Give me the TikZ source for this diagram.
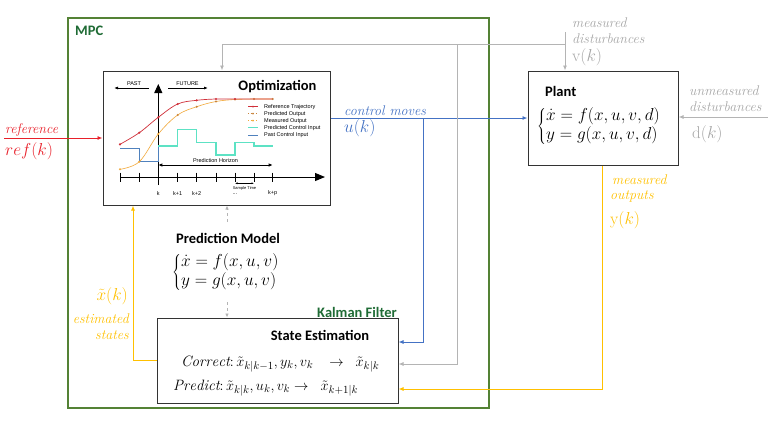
\documentclass[tikz,border=0pt]{standalone}
\usepackage{fontspec}
\newfontfamily\calib{Carlito}
\newfontfamily\arl{Liberation Sans}
\usetikzlibrary{arrows.meta}
\definecolor{mpcgreen}{HTML}{548235}
\definecolor{dkgreen}{HTML}{1F6B35}
\definecolor{refred}{HTML}{E8202A}
\definecolor{ublue}{HTML}{4472C4}
\definecolor{lgray}{HTML}{B4B4B4}
\definecolor{tgray}{HTML}{A6A6A6}
\definecolor{yel}{HTML}{FFC000}
\definecolor{cyanc}{HTML}{5DE2C4}
\definecolor{pastblue}{HTML}{4F81BD}
\definecolor{predor}{HTML}{C8843C}
\definecolor{measor}{HTML}{F2A93B}
\definecolor{chred}{HTML}{D0303A}
\tikzset{
  arr/.style={-{Latex[length=5pt,width=4pt]}, line width=0.9pt},
  box/.style={draw=black!80, line width=1pt, inner sep=0pt, fill=white},
  bsans/.style={font=\calib\bfseries\fontsize{14.5}{17}\selectfont, inner sep=0pt},
  itl/.style={font=\itshape\fontsize{14}{16}\selectfont, inner sep=0pt},
  mth/.style={font=\fontsize{17}{20}\selectfont, inner sep=0pt},
  eqn/.style={font=\fontsize{16}{20}\selectfont, inner sep=0pt},
  seq/.style={font=\fontsize{15}{18}\selectfont, inner sep=0pt},
  tiny/.style={font=\arl\fontsize{5.5}{6}\selectfont, inner sep=0pt},
  dsh/.style={draw=lgray, dashed, line width=0.9pt, -{Latex[length=4pt,width=3.5pt]}},
  ax/.style={line width=0.8pt, black}
}
\newcommand{\eqsys}[2]{$\renewcommand{\arraystretch}{0.95}\left\{\begin{array}{@{}l@{}}#1\\ #2\end{array}\right.$}
\begin{document}
\begin{tikzpicture}[x=1pt,y=-1pt]
\useasboundingbox (0,0) rectangle (768,424);
% frames
\node[draw=mpcgreen, line width=1.3pt, minimum width=421pt, minimum height=390pt, inner sep=0pt] (mpc) at (278.5,213) {};
\node[bsans, text=dkgreen, anchor=west] (mpclbl) at (75,31) {MPC};

% connectors
\coordinate (refin) at (4,138);
\coordinate (ubr) at (423,118);
\coordinate (vtop) at (565,32);
\coordinate (vbr) at (565,44);
\coordinate (gbr) at (457,44);
\coordinate (gcorner) at (222,44);
\coordinate (dright) at (768,117);
\coordinate (ydown) at (602,389);
\coordinate (xleft) at (133,360);

% boxes
\node[box, minimum width=227pt, minimum height=134pt] (opt) at (216.5,138) {};
\node[box, minimum width=150pt, minimum height=94pt] (plant) at (603,118) {};
\node[box, minimum width=241pt, minimum height=85pt] (state) at (277.5,360.5) {};

\draw[arr, refred] (refin) -- (opt.west |- refin);
\draw[arr, ublue] (opt.east |- ubr) -- (plant.west |- ubr);
\draw[arr, ublue] (ubr) -- (ubr |- 0,342) -- (state.east |- 0,342);
\draw[arr, lgray] (vtop) -- (vtop |- plant.north);
\draw[arr, lgray] (vbr) -- (gcorner) -- (gcorner |- opt.north);
\draw[arr, lgray] (gbr) -- (gbr |- 0,364) -- (state.east |- 0,364);
\draw[arr, lgray] (dright) -- (plant.east |- dright);
\draw[arr, yel] (plant.south -| ydown) -- (ydown) -- (state.east |- ydown);
\draw[arr, yel] (state.west |- xleft) -- (xleft) -- (xleft |- opt.south);

% optimization chart
\node[bsans] (opttitle) at (277.5,87) {Optimization};
\draw[ax, -{Latex[length=4pt,width=3pt]}] (149,88) -- (114,88);
\draw[ax, -{Latex[length=4pt,width=3pt]}] (168,88) -- (208,88);
\node[tiny] (past) at (134,83.5) {PAST};
\node[tiny] (future) at (187.5,83.5) {FUTURE};
\draw[line width=1pt, -{Triangle[length=9pt,width=8pt]}] (158.3,185) -- (158.3,84);
\draw[line width=1pt, -{Triangle[length=10pt,width=8pt]}] (120,177) -- (325,177);
\foreach \t in {120,139.3,158.3,177.7,196.7,216,235,254,272.7}
  \draw[line width=0.7pt] (\t,172.5) -- (\t,181.5);
\node[tiny] (tk) at (158.3,193.5) {k};
\node[tiny] (tk1) at (177.7,193.5) {k+1};
\node[tiny] (tk2) at (196.7,193.5) {k+2};
\node[tiny] (tdots) at (235,194.5) {...};
\node[tiny] (tkp) at (272.7,193.5) {k+p};
\draw[line width=0.6pt, {Latex[length=2.5pt,width=2pt]}-{Latex[length=2.5pt,width=2pt]}] (235,183.3) -- (254,183.3);
\node[font=\arl\fontsize{4}{4}\selectfont, inner sep=0pt] (st) at (244.5,188) {Sample Time};
\draw[line width=0.9pt, {Latex[length=4pt,width=3.5pt]}-{Latex[length=4pt,width=3.5pt]}] (158.3,165) -- (272.7,165);
\node[tiny] (ph) at (215.5,160.5) {Prediction Horizon};
% past control input
\draw[pastblue, line width=0.8pt] (120,148.3) -- (139.3,148.3) -- (139.3,161.7) -- (158.3,161.7) -- (158.3,146);
% predicted control input
\draw[cyanc, line width=1.1pt] (158.3,146) -- (177.7,146) -- (177.7,129.3) -- (196.7,129.3) -- (196.7,142.3) -- (216,142.3) -- (216,155) -- (235,155) -- (235,142.3) -- (254,142.3) -- (254,146) -- (272.7,146);
% measured / predicted output
\draw[measor, line width=0.6pt] plot[smooth, tension=0.6] coordinates {(120,169.3) (139.3,161.7) (158.3,134) (177.7,115) (196.7,106.7) (216,101.5) (235,99.5) (254,99) (272.7,99)};
\foreach \p in {(120,169.3),(139.3,161.7),(158.3,134)} \fill[measor] \p circle (1.1pt);
\foreach \p in {(177.7,115),(196.7,106.7),(216,101.5),(235,99.5),(254,99),(272.7,99)} \fill[predor] \p circle (1.1pt);
% reference trajectory
\draw[chred, line width=0.7pt] plot[smooth, tension=0.6] coordinates {(120,144.3) (139.3,132.7) (158.3,117.3) (177.7,104) (196.7,100.3) (216,99) (235,99) (254,99) (272.7,99)};
\foreach \p in {(120,144.3),(139.3,132.7),(158.3,117.3),(177.7,104),(196.7,100.3),(216,99),(235,99)} \fill[chred] \p circle (1.2pt);
% legend
\draw[chred, line width=0.6pt] (248,106.7) -- (258,106.7); \fill[chred] (253,106.7) circle (1pt);
\draw[predor, line width=0.6pt, dotted] (248,113.7) -- (258,113.7); \fill[predor] (253,113.7) circle (1pt);
\draw[measor, line width=0.6pt, dotted] (248,120.7) -- (258,120.7); \fill[measor] (253,120.7) circle (1pt);
\draw[cyanc, line width=1pt] (248,127.8) -- (258,127.8);
\draw[pastblue, line width=0.7pt] (248,134.9) -- (258,134.9);
\node[tiny, anchor=west] (lg1) at (264,106.7) {Reference Trajectory};
\node[tiny, anchor=west] (lg2) at (264,113.7) {Predicted Output};
\node[tiny, anchor=west] (lg3) at (264,120.7) {Measured Output};
\node[tiny, anchor=west] (lg4) at (264,127.8) {Predicted Control Input};
\node[tiny, anchor=west] (lg5) at (264,134.9) {Past Control Input};

% plant
\node[bsans, anchor=west] (plantlbl) at (545,91) {Plant};
\node[eqn, anchor=west] (planteq) at (537,126) {\eqsys{\dot{x} = f(x,u,v,d)}{y = g(x,u,v,d)}};

% prediction model
\node[bsans] (pmt) at (228,238) {Prediction Model};
\node[eqn, anchor=west] (pmeq) at (172,272) {\eqsys{\dot{x} = f(x,u,v)}{y = g(x,u,v)}};
\coordinate (pmtop) at (227,222);
\coordinate (pmbot) at (227,302);
\draw[dsh] (pmtop) -- (pmtop |- opt.south);
\draw[dsh] (pmbot) -- (pmbot |- state.north);

% kalman / state estimation
\node[bsans, text=dkgreen, anchor=east] (kal) at (397,312) {Kalman Filter};
\node[bsans] (se) at (320,335) {State Estimation};
\node[seq, anchor=west] (corr) at (181,364) {$\mathit{Correct}\colon \tilde{x}_{k|k-1}, y_k, v_k \;\;\;\rightarrow\;\; \tilde{x}_{k|k}$};
\node[seq, anchor=west] (pred) at (173,388) {$\mathit{Predict}\colon \tilde{x}_{k|k}, u_k, v_k \rightarrow\;\; \tilde{x}_{k+1|k}$};

% labels
\node[itl, text=refred, anchor=west] (reflbl) at (5,130) {reference};
\node[mth, text=refred, anchor=west] (refk) at (5,151) {$ref(k)$};
\node[itl, text=ublue, anchor=west] (cmlbl) at (344,111) {control moves};
\node[mth, text=ublue, anchor=west] (uk) at (344,128) {$u(k)$};
\node[itl, text=tgray, anchor=west] (md1) at (572,23) {measured};
\node[itl, text=tgray, anchor=west] (md2) at (572,39) {disturbances};
\node[mth, text=tgray, anchor=west] (vk) at (572,57) {$\mathrm{v}(k)$};
\node[itl, text=tgray, anchor=west] (ud1) at (689,91) {unmeasured};
\node[itl, text=tgray, anchor=west] (ud2) at (689,107) {disturbances};
\node[mth, text=tgray, anchor=west] (dk) at (692,134) {$\mathrm{d}(k)$};
\node[itl, text=yel, anchor=west] (mo1) at (612,180) {measured};
\node[itl, text=yel, anchor=west] (mo2) at (610,196) {outputs};
\node[mth, text=yel, anchor=west] (yk) at (610,220) {$\mathrm{y}(k)$};
\node[mth, text=yel, anchor=east] (xk) at (128,296) {$\tilde{x}(k)$};
\node[itl, text=yel, anchor=east] (es1) at (129,319) {estimated};
\node[itl, text=yel, anchor=east] (es2) at (129,335) {states};
\end{tikzpicture}
\end{document}
